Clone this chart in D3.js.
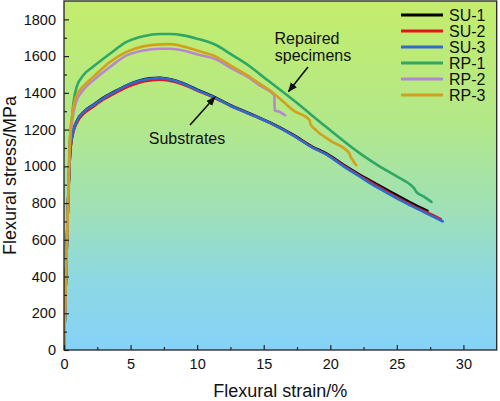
<!DOCTYPE html>
<html><head><meta charset="utf-8">
<script src="https://cdn.jsdelivr.net/npm/d3@7"></script>
<style>
html,body{margin:0;padding:0;background:#fff;}
svg{display:block;font-family:"Liberation Sans",Arial,sans-serif;}
</style></head>
<body>
<svg id="chart" width="500" height="401"></svg>
<script>
// ---- data (strain %, stress MPa) ----
const seriesNames = ["SU-1","SU-2","SU-3","RP-1","RP-2","RP-3"];
const seriesColors = ["#000000","#e3141b","#2e6bcc","#2fa866","#b786d0","#d3a01c"];
const su1 = [[0,0],[0.15,400],[0.3,790],[0.42,1020],[0.5,1110],[0.7,1195],[1.0,1252],[1.5,1298],[2.2,1335],[3,1375],[4,1415],[4.7,1440],[5.5,1463],[6.45,1479],[7.2,1482],[8,1474],[8.9,1454],[10,1417],[11.2,1380],[12.5,1333],[13.95,1288],[14.7,1264],[15.5,1237],[17.2,1172],[18.7,1105],[19.7,1070],[21,1008],[22.2,955],[23,922],[24,882],[25,843],[26,803],[26.8,775],[27.3,757]];
const su2 = [[0,0],[0.15,400],[0.3,790],[0.42,1015],[0.5,1100],[0.7,1185],[1.0,1242],[1.5,1288],[2.2,1325],[3,1365],[4,1405],[4.7,1430],[5.5,1452],[6.45,1467],[7.2,1471],[8,1465],[8.9,1447],[10,1412],[11.2,1376],[12.5,1330],[13.95,1285],[14.7,1262],[15.5,1235],[17.2,1170],[18.7,1102],[19.7,1067],[21,1004],[22.2,950],[23,915],[24,873],[25,832],[26,793],[27,758],[27.8,732],[28.3,712]];
const su3 = [[0,0],[0.15,400],[0.3,790],[0.42,1020],[0.5,1108],[0.7,1192],[1.0,1252],[1.5,1298],[2.2,1333],[3,1373],[4,1413],[4.7,1440],[5.5,1462],[6.45,1477],[7.2,1480],[8,1472],[8.9,1452],[10,1415],[11.2,1378],[12.5,1330],[13.95,1285],[14.7,1262],[15.5,1235],[17.2,1169],[18.7,1100],[19.7,1065],[21,1000],[22.2,945],[22.95,910],[24,866],[25,826],[26,787],[27,752],[27.8,723],[28.45,700]];
const rp1 = [[0,0],[0.15,400],[0.3,790],[0.45,1150],[0.58,1250],[0.7,1340],[0.95,1432],[1.5,1500],[2.2,1543],[3.45,1613],[4.7,1677],[5.95,1708],[7.2,1720],[8,1720],[8.95,1713],[10,1695],[11.45,1659],[12.5,1612],[13.95,1545],[14.7,1502],[15.45,1460],[17.2,1362],[19.7,1214],[22.2,1072],[23.7,1000],[25,945],[26.2,888],[26.3,880],[26.45,862],[27,836],[27.6,806]];
const rp2 = [[0,0],[0.15,400],[0.3,790],[0.45,1130],[0.6,1240],[0.9,1350],[1.5,1420],[2.2,1468],[3.45,1541],[4.7,1604],[5.95,1631],[7.2,1640],[8,1640],[8.95,1631],[10,1610],[11.45,1581],[12.5,1537],[13.95,1480],[14.7,1440],[15.8,1386],[15.82,1305],[16.2,1296],[16.6,1278]];
const rp3 = [[0,0],[0.15,400],[0.3,790],[0.45,1150],[0.6,1270],[0.9,1378],[1.5,1440],[2.2,1487],[3.45,1568],[4.7,1623],[5.95,1653],[7.2,1664],[8,1665],[8.95,1653],[10,1630],[11.45,1596],[12.5,1550],[13.95,1487],[14.7,1450],[15.45,1414],[16.5,1350],[17.2,1305],[18.45,1251],[18.5,1232],[18.95,1196],[20,1140],[21.45,1070],[21.5,1055],[21.7,1033],[21.8,1020],[21.95,1006]];
const allSeries = [su1,su2,su3,rp1,rp2,rp3];
const xTicks = [0,5,10,15,20,25,30];
const yTicks = [0,200,400,600,800,1000,1200,1400,1600,1800];

// ---- layout ----
const svg = d3.select("#chart");
const L = 64, R = 496.7, T = 1, B = 350;
const x = d3.scaleLinear().domain([0,32.5]).range([L,R]);
const y = d3.scaleLinear().domain([0,1900]).range([B,T]);

const defs = svg.append("defs");
const grad = defs.append("linearGradient").attr("id","bg").attr("x1",0).attr("y1",0).attr("x2",0).attr("y2",1);
[["0%","#c4ed6c"],["35%","#b3e889"],["60%","#9fe0b8"],["80%","#8dd8e2"],["100%","#86d2f8"]].forEach(s=>grad.append("stop").attr("offset",s[0]).attr("stop-color",s[1]));
svg.append("rect").attr("x",L).attr("y",T).attr("width",R-L).attr("height",B-T).attr("fill","url(#bg)");

const clip = defs.append("clipPath").attr("id","clip");
clip.append("rect").attr("x",L).attr("y",T).attr("width",R-L).attr("height",B-T);

// curves
const line = d3.line().x(d=>x(d[0])).y(d=>y(d[1])).curve(d3.curveMonotoneX);
const g = svg.append("g").attr("clip-path","url(#clip)");
allSeries.forEach((s,i)=>{
  g.append("path").attr("d",line(s)).attr("fill","none").attr("stroke",seriesColors[i]).attr("stroke-width",2.6).attr("stroke-linejoin","round").attr("stroke-linecap","round");
});

// axes (ticks inward)
const axisColor = "#222";
const xAxis = svg.append("g").attr("transform",`translate(0,${B})`).call(d3.axisBottom(x).tickValues(xTicks).tickSize(-5).tickPadding(9).tickFormat(d3.format("d")));
const xMinor = svg.append("g").attr("transform",`translate(0,${B})`).call(d3.axisBottom(x).tickValues(d3.range(2.5,32.5,5)).tickSize(-3).tickFormat(""));
const yAxis = svg.append("g").attr("transform",`translate(${L},0)`).call(d3.axisLeft(y).tickValues(yTicks).tickSize(-5).tickPadding(8).tickFormat(d3.format("d")));
const yMinor = svg.append("g").attr("transform",`translate(${L},0)`).call(d3.axisLeft(y).tickValues(d3.range(100,1900,200)).tickSize(-3).tickFormat(""));
[xAxis,xMinor,yAxis,yMinor].forEach(a=>{
  a.select(".domain").remove();
  a.selectAll("line").attr("stroke",axisColor).attr("stroke-width",1.2);
  a.selectAll("text").attr("fill","#111").style("font-size","14.5px").style("font-family","'Liberation Sans',Arial,sans-serif");
});
svg.append("rect").attr("x",L).attr("y",T).attr("width",R-L).attr("height",B-T).attr("fill","none").attr("stroke",axisColor).attr("stroke-width",1.3);

// axis titles
svg.append("text").attr("x",(L+R)/2).attr("y",397).attr("text-anchor","middle").attr("fill","#111").style("font-size","18px").text("Flexural strain/%");
svg.append("text").attr("transform",`translate(16,${(T+B)/2}) rotate(-90)`).attr("text-anchor","middle").attr("fill","#111").style("font-size","18px").text("Flexural stress/MPa");

// legend
const leg = svg.append("g");
seriesNames.forEach((n,i)=>{
  const yy = 15 + i*16;
  leg.append("line").attr("x1",401).attr("x2",443).attr("y1",yy).attr("y2",yy).attr("stroke",seriesColors[i]).attr("stroke-width",3);
  leg.append("text").attr("x",449).attr("y",yy+5.5).attr("fill","#111").style("font-size","16px").text(n);
});

// annotations
defs.append("marker").attr("id","arr").attr("viewBox","0 0 10 10").attr("refX",9).attr("refY",5).attr("markerWidth",6).attr("markerHeight",6).attr("orient","auto")
  .append("path").attr("d","M0,1 L10,5 L0,9 Z").attr("fill","#111");
svg.append("text").attr("x",307).attr("y",44).attr("text-anchor","middle").attr("fill","#111").style("font-size","16px").text("Repaired");
svg.append("text").attr("x",313).attr("y",61).attr("text-anchor","middle").attr("fill","#111").style("font-size","16px").text("specimens");
svg.append("line").attr("x1",308).attr("y1",67).attr("x2",288.5).attr("y2",91.5).attr("stroke","#111").attr("stroke-width",1.6).attr("marker-end","url(#arr)");
svg.append("text").attr("x",187).attr("y",144).attr("text-anchor","middle").attr("fill","#111").style("font-size","16px").text("Substrates");
svg.append("line").attr("x1",190).attr("y1",125).attr("x2",215).attr("y2",97).attr("stroke","#111").attr("stroke-width",1.6).attr("marker-end","url(#arr)");
</script>
</body></html>
